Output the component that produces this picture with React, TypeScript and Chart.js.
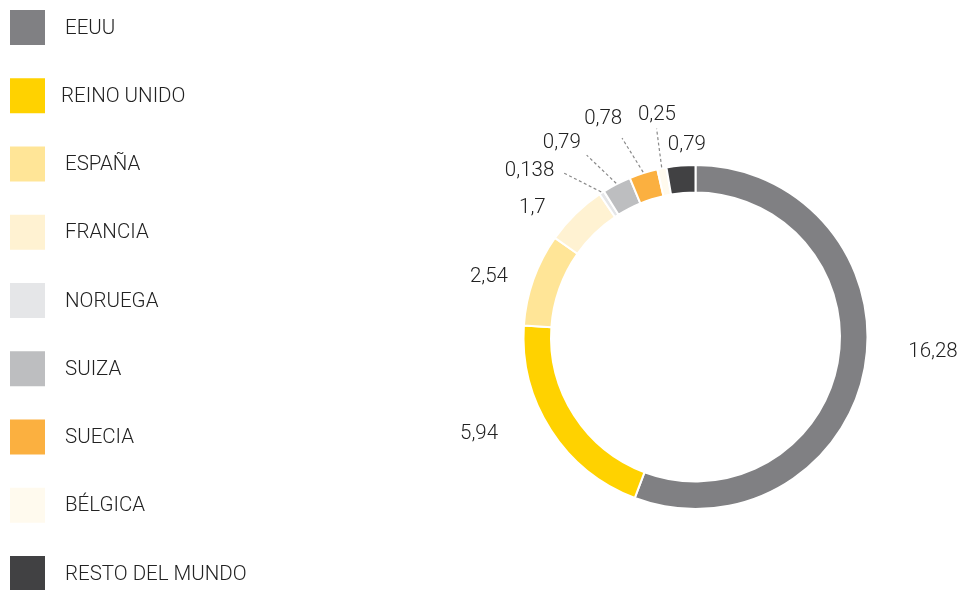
import React, { useEffect, useRef } from "react";
import { Chart, registerables } from "chart.js";

Chart.register(...registerables);

const categories = ["EEUU", "REINO UNIDO", "ESPAÑA", "FRANCIA", "NORUEGA", "SUIZA", "SUECIA", "BÉLGICA", "RESTO DEL MUNDO"];
const values = [16.28, 5.94, 2.54, 1.7, 0.138, 0.79, 0.78, 0.25, 0.79];
const valueLabels = ["16,28", "5,94", "2,54", "1,7", "0,138", "0,79", "0,78", "0,25", "0,79"];
const colors = ["#808083", "#FFD200", "#FFE597", "#FFF2D2", "#E5E6E8", "#BDBEC0", "#FBB040", "#FFFAEE", "#414143"];

// label placement style: radial distance, angular nudge (deg), leader line
const labelRadius = [238, 237, 215, 208, 235, 236, 237, 225, 192];
const labelNudge = [-6.7, 8.7, -3.4, -7.3, -11.9, -7.2, -5.3, 1.4, 2.3];
const labelLeader = [false, false, false, false, true, true, true, true, false];

const FONT = "Roboto, 'Liberation Sans', sans-serif";

const legendPlugin = {
  id: "sideLegend",
  afterDraw(chart: any) {
    const ctx = chart.ctx;
    const labels = chart.data.labels as string[];
    const bg = chart.data.datasets[0].backgroundColor as string[];
    ctx.save();
    ctx.font = `300 20.5px ${FONT}`;
    ctx.textBaseline = "middle";
    ctx.textAlign = "left";
    labels.forEach((l, i) => {
      const cy = 27.5 + i * 68.25;
      ctx.fillStyle = bg[i];
      ctx.fillRect(10, cy - 17.5, 35, 35);
      ctx.fillStyle = "#222222";
      ctx.fillText(l, i === 1 ? 61 : 65, cy + 1);
    });
    ctx.restore();
  },
};

const valueLabelPlugin = {
  id: "valueLabels",
  afterDatasetsDraw(chart: any) {
    const ctx = chart.ctx;
    const meta = chart.getDatasetMeta(0);
    ctx.save();
    ctx.font = `300 20.5px ${FONT}`;
    ctx.textAlign = "center";
    ctx.textBaseline = "middle";
    meta.data.forEach((arc: any, i: number) => {
      const { x, y, startAngle, endAngle, outerRadius } = arc.getProps(["x", "y", "startAngle", "endAngle", "outerRadius"], true);
      const mid = (startAngle + endAngle) / 2;
      const la = mid + (labelNudge[i] * Math.PI) / 180;
      const lx = x + Math.cos(la) * labelRadius[i];
      const ly = y + Math.sin(la) * labelRadius[i];
      if (labelLeader[i]) {
        const ea = (mid + la) / 2;
        const sx = x + Math.cos(mid) * (outerRadius + 1);
        const sy = y + Math.sin(mid) * (outerRadius + 1);
        const ex = x + Math.cos(ea) * 212;
        const ey = y + Math.sin(ea) * 212;
        ctx.strokeStyle = "#8a8a8a";
        ctx.lineWidth = 1.2;
        ctx.setLineDash([3, 2.5]);
        ctx.beginPath();
        ctx.moveTo(sx, sy);
        ctx.lineTo(ex, ey);
        ctx.stroke();
        ctx.setLineDash([]);
      }
      ctx.fillStyle = "#222222";
      ctx.fillText(valueLabels[i], lx, ly);
    });
    ctx.restore();
  },
};

export default function App() {
  const ref = useRef<HTMLCanvasElement>(null);
  useEffect(() => {
    document.body.style.margin = "0";
    const chart = new Chart(ref.current!, {
      type: "doughnut",
      data: {
        labels: categories,
        datasets: [
          {
            data: values,
            backgroundColor: colors,
            borderColor: "#ffffff",
            borderWidth: 2,
          },
        ],
      },
      options: {
        animation: false,
        responsive: false,
        cutout: "84%",
        layout: { padding: { left: 522.5, right: 91.5, top: 164, bottom: 80 } },
        plugins: {
          legend: { display: false },
          tooltip: { enabled: false },
        },
      },
      plugins: [legendPlugin, valueLabelPlugin],
    });
    return () => chart.destroy();
  }, []);
  return (
    <div style={{ position: "absolute", left: 0, top: 0, width: 960, height: 590, background: "#fff" }}>
      <canvas ref={ref} width={960} height={590} style={{ width: 960, height: 590, display: "block" }} />
    </div>
  );
}
